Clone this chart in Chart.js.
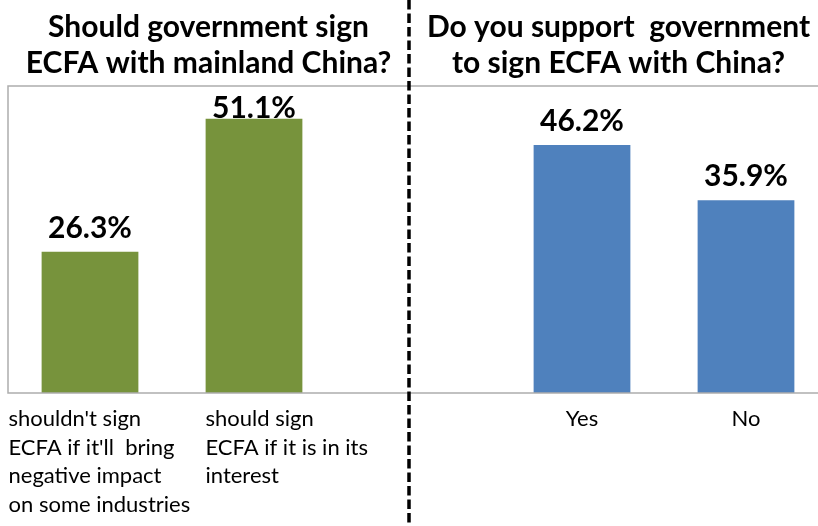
<!DOCTYPE html>
<html>
<head>
<meta charset="utf-8">
<script src="https://cdn.jsdelivr.net/npm/chart.js@4/dist/chart.umd.min.js"></script>
<style>
  html, body { margin: 0; padding: 0; background: #ffffff; overflow: hidden; }
  #wrap { position: absolute; left: 0; top: 0; width: 836px; height: 526px; }
</style>
</head>
<body>
<div id="wrap"><canvas id="c" width="836" height="526"></canvas></div>
<script>
// ---- data ----
const categories = [
  ["shouldn't sign", "ECFA if it'll  bring", "negative impact", "on some industries"],
  ["should sign", "ECFA if it is in its", "interest"],
  [""],
  ["Yes"],
  ["No"]
];
const signConditionValues = [26.3, 51.1, null, null, null];   // left question
const supportValues       = [null, null, null, 46.2, 35.9];   // right question
const panelTitles = [
  ["Should government sign", "ECFA with mainland China?"],
  ["Do you support  government", "to sign ECFA with China?"]
];
const yMax = 57.2;

// ---- styling ----
const GREEN = '#77933C';
const BLUE = '#4F81BD';
const FONT = 'Lato, "Open Sans", "Liberation Sans", sans-serif';

const decorPlugin = {
  id: 'decor',
  afterDatasetsDraw(chart, args, opts) {
    const ctx = chart.ctx;
    const a = chart.chartArea;
    const xs = chart.scales.x;
    ctx.save();
    // plot area frame
    ctx.strokeStyle = '#ADADAD';
    ctx.lineWidth = 1.5;
    ctx.strokeRect(a.left, a.top, a.right - a.left, a.bottom - a.top);

    // value labels
    ctx.fillStyle = '#000';
    ctx.font = 'bold 30px ' + FONT;
    ctx.textAlign = 'center';
    ctx.textBaseline = 'alphabetic';
    chart.data.datasets.forEach((ds, di) => {
      const meta = chart.getDatasetMeta(di);
      meta.data.forEach((bar, i) => {
        const v = ds.data[i];
        if (v === null || v === undefined) return;
        let y = bar.y - 14;
        y = Math.max(y, a.top + 32);
        ctx.fillText(v.toFixed(1) + '%', bar.x, y);
      });
    });

    // category labels
    ctx.font = '22px ' + FONT;
    categories.forEach((lines, i) => {
      const cx = xs.getPixelForValue(i);
      const off = opts.labelOffsets[i];
      ctx.textAlign = off === null ? 'center' : 'left';
      const x = off === null ? cx : cx + off;
      lines.forEach((t, k) => {
        ctx.fillText(t, x, a.bottom + 33 + k * 28.5);
      });
    });

    // divider
    const dx = opts.dividerX;
    ctx.strokeStyle = '#000';
    ctx.lineWidth = 3.5;
    ctx.setLineDash([9.5, 4]);
    ctx.beginPath();
    ctx.moveTo(dx, 0);
    ctx.lineTo(dx, chart.height);
    ctx.stroke();
    ctx.setLineDash([]);

    // panel titles
    ctx.font = 'bold 30px ' + FONT;
    ctx.textAlign = 'center';
    const centers = [(a.left + dx) / 2, (dx + a.right) / 2];
    panelTitles.forEach((lines, p) => {
      lines.forEach((t, k) => {
        ctx.fillText(t, centers[p], 37 + k * 36);
      });
    });
    ctx.restore();
  }
};

new Chart(document.getElementById('c'), {
  type: 'bar',
  data: {
    labels: categories,
    datasets: [
      { label: 'Should government sign ECFA', data: signConditionValues, backgroundColor: GREEN },
      { label: 'Support signing ECFA', data: supportValues, backgroundColor: BLUE }
    ]
  },
  options: {
    responsive: false,
    animation: false,
    devicePixelRatio: 1,
    layout: { padding: { left: 8, right: 8, top: 86, bottom: 133 } },
    datasets: { bar: { grouped: false, categoryPercentage: 1, barPercentage: 0.59 } },
    scales: {
      x: { display: false, offset: true },
      y: { display: false, min: 0, max: yMax }
    },
    plugins: {
      legend: { display: false },
      tooltip: { enabled: false },
      decor: { dividerX: 409, labelOffsets: [-81.5, -48.5, null, null, null] }
    }
  },
  plugins: [decorPlugin]
});
</script>
</body>
</html>
